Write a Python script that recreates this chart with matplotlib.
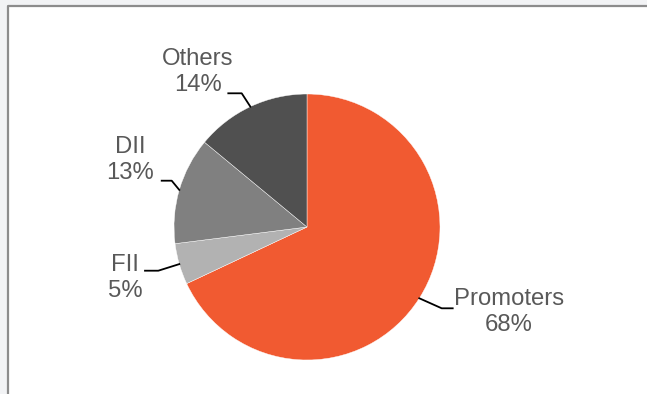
import numpy as np
import matplotlib.pyplot as plt
from matplotlib.patches import Rectangle

# shareholding pattern
labels = ["Promoters", "FII", "DII", "Others"]
shares = [68, 5, 13, 14]
colors = ["#F15A31", "#B2B2B2", "#808080", "#505050"]

# label anchors (pixel layout, y up) and leader elbow offsets
label_pos = [(509, 82), (125, 116), (130, 234), (198, 322)]
elbows = [((441.7, 85.7), (452.7, 85.7)),
          ((158.3, 123.3), (145.0, 123.3)),
          ((171.7, 213.3), (161.7, 213.3)),
          ((241.7, 300.7), (228.3, 300.7))]

W, H = 647, 394
cx, cy, r = 307, 167, 133

plt.rcParams['font.family'] = ['Liberation Sans', 'DejaVu Sans']
fig = plt.figure(figsize=(W / 100, H / 100), dpi=100)
fig.patch.set_facecolor('#F2F3F5')
ax = fig.add_axes([0, 0, 1, 1])

# white panel with gray border (open at right and bottom)
ax.add_patch(Rectangle((7, -5), W, H - 0.5, facecolor='white',
                       edgecolor='none', zorder=0))
ax.plot([7.5, 7.5, W + 2], [-2, H - 5.5, H - 5.5], color='#8C8C8C', lw=1.6, zorder=1)

wedges, _ = ax.pie(shares, colors=colors, startangle=90, counterclock=False,
                   center=(cx, cy), radius=r, frame=True,
                   wedgeprops=dict(edgecolor='white', linewidth=0.3))
ax.set_xlim(0, W)
ax.set_ylim(0, H)
ax.set_aspect('equal')
ax.axis('off')

for w, lab, val, (lx, ly), (e1, e2) in zip(wedges, labels, shares, label_pos, elbows):
    ang = np.deg2rad((w.theta1 + w.theta2) / 2)
    sx, sy = cx + r * np.cos(ang), cy + r * np.sin(ang)
    ax.plot([sx, e1[0], e2[0]], [sy, e1[1], e2[1]], color='black', lw=1.3, zorder=3)
    ax.text(lx, ly, f"{lab}\n{val}%", ha='center', va='center', fontsize=17.2,
            color='#595959', linespacing=1.18, zorder=4)

plt.savefig("out.png", dpi=100, facecolor=fig.get_facecolor())
